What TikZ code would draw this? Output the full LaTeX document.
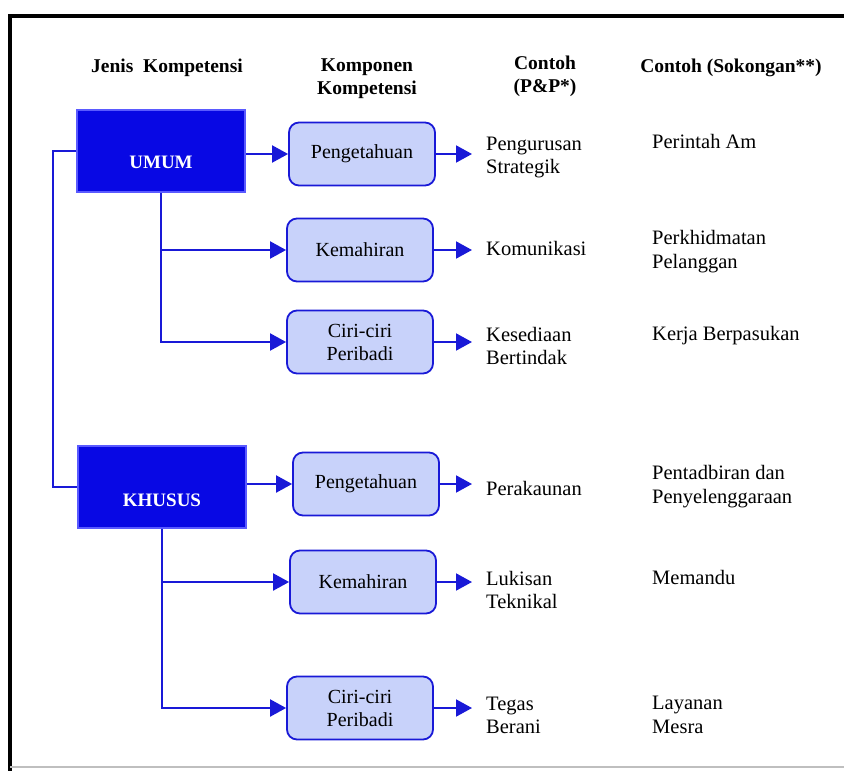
\documentclass[tikz,border=0pt]{standalone}
\usepackage{fontspec}
\setmainfont{Liberation Serif}
\usetikzlibrary{arrows.meta}

\definecolor{jenisblue}{RGB}{8,8,228}
\definecolor{jenisedge}{RGB}{90,90,255}
\definecolor{linkblue}{RGB}{25,25,215}
\definecolor{kompfill}{RGB}{200,210,250}

\begin{document}
\begin{tikzpicture}[x=1pt, y=-1pt,
	jenis/.style={rectangle, draw=jenisedge, line width=2pt, fill=jenisblue, text=white, font=\fontsize{19}{23}\selectfont\bfseries, minimum width=168pt, minimum height=82pt},
	komp/.style={rectangle, rounded corners=10pt, draw=linkblue, line width=1.8pt, fill=kompfill, font=\fontsize{20}{23}\selectfont, align=center, minimum width=146pt, minimum height=63pt},
	contoh/.style={anchor=west, align=left, inner xsep=14pt, inner ysep=0pt, font=\fontsize{20.5}{23}\selectfont},
	sokong/.style={anchor=west, align=left, inner sep=0pt, font=\fontsize{20.5}{24}\selectfont},
	tajuk/.style={align=center, inner sep=0pt, font=\fontsize{19.5}{23}\selectfont\bfseries},
	link/.style={draw=linkblue, line width=2pt},
	panah/.style={link, -{Triangle[length=16pt,width=17pt]}}]
	\useasboundingbox (0,0) rectangle (844,771);

	% frame
	\draw[line width=4pt] (844,16) -- (10,16) -- (10,771);
	\draw[black!25, line width=1.5pt] (10,767) -- (844,767);

	% headers
	\node[tajuk] (h_1) at (167,68) {Jenis\ \ Kompetensi};
	\node[tajuk] (h_2) at (367,79) {Komponen\\Kompetensi};
	\node[tajuk] (h_3) at (545,76) {Contoh\\(P\&P*)};
	\node[tajuk] (h_4) at (731,68) {Contoh (Sokongan**)};

	% kompetensi
	\node[jenis] (umum) at (161,151) {\raisebox{-17pt}[0pt][0pt]{UMUM}};
	\node[jenis] (khusus) at (162,487) {\raisebox{-19pt}[0pt][0pt]{KHUSUS}};

	% komponen
	\node[komp] (p_1) at (362,154) {Pengetahuan};
	\node[komp] (k_1) at (360,250) {Kemahiran};
	\node[komp] (c_1) at (360,342) {Ciri-ciri\\Peribadi};
	\node[komp] (p_2) at (366,484) {Pengetahuan};
	\node[komp] (k_2) at (363,582) {Kemahiran};
	\node[komp] (c_2) at (360,708) {Ciri-ciri\\Peribadi};

	% contoh P&P
	\node[contoh] (e_1) at (472,157) {Pengurusan\\Strategik};
	\node[contoh] (e_2) at (472,248) {Komunikasi};
	\node[contoh] (e_3) at (472,346) {Kesediaan\\Bertindak};
	\node[contoh] (e_4) at (472,488) {Perakaunan};
	\node[contoh] (e_5) at (472,590) {Lukisan\\Teknikal};
	\node[contoh] (e_6) at (472,715) {Tegas\\Berani};

	% contoh sokongan
	\node[sokong] (s_1) at (652,141) {Perintah Am};
	\node[sokong] (s_2) at (652,252) {Perkhidmatan\\Pelanggan};
	\node[sokong] (s_3) at (652,336) {Kerja Berpasukan};
	\node[sokong] (s_4) at (652,487) {Pentadbiran dan\\Penyelenggaraan};
	\node[sokong] (s_5) at (652,577) {Memandu};
	\node[sokong] (s_6) at (652,715) {Layanan\\Mesra};

	\draw[link] (umum.west) -- ++(-23,0) |- (khusus.west);

	\draw[panah] (umum.east |- p_1) -- (p_1);
	\draw[panah] (umum.south) |- (k_1);
	\draw[panah] (umum.south) |- (c_1);
	\draw[panah] (khusus.east |- p_2) -- (p_2);
	\draw[panah] (khusus.south) |- (k_2);
	\draw[panah] (khusus.south) |- (c_2);

	\draw[panah] (p_1) -- (p_1 -| e_1.west);
	\draw[panah] (k_1) -- (k_1 -| e_2.west);
	\draw[panah] (c_1) -- (c_1 -| e_3.west);
	\draw[panah] (p_2) -- (p_2 -| e_4.west);
	\draw[panah] (k_2) -- (k_2 -| e_5.west);
	\draw[panah] (c_2) -- (c_2 -| e_6.west);
\end{tikzpicture}
\end{document}
